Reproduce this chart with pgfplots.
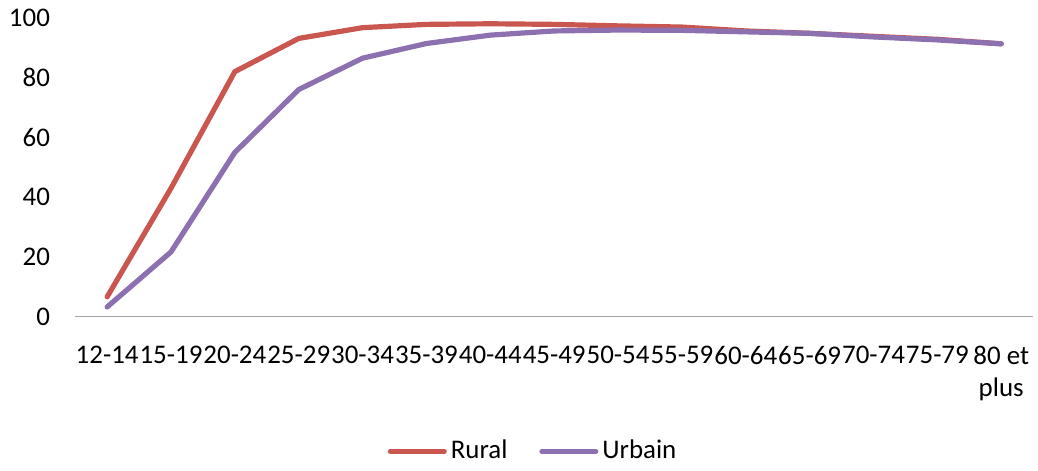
\documentclass[border=0pt]{standalone}
\usepackage{pgfplots}
\pgfplotsset{compat=1.18}
\usepackage{fontspec}
\setmainfont{Carlito}
\definecolor{rural}{HTML}{C9564F}
\definecolor{urbain}{HTML}{8C70B0}
\begin{document}
\fontsize{13.5}{16}\selectfont
\begin{tikzpicture}
\begin{axis}[
  scale only axis,
  width=480.5pt, height=150pt,
  xmin=-0.5, xmax=14.5,
  ymin=0, ymax=100,
  ytick={0,20,40,60,80,100},
  xtick={0,...,14},
  xticklabels={12-14,15-19,20-24,25-29,30-34,35-39,40-44,45-49,50-54,55-59,60-64,65-69,70-74,75-79,80 et\\plus},
  xticklabel style={align=center, font=\fontsize{13.5}{16}\selectfont, yshift=-10pt},
  yticklabel style={font=\fontsize{13.5}{16}\selectfont, xshift=-8pt},
  /pgf/number format/assume math mode=true,
  axis x line*=bottom,
  axis y line*=left,
  y axis line style={draw=none},
  x axis line style={draw=gray!70, line width=0.6pt, -},
  major tick length=0pt,
  tick style={draw=none},
  clip=false,
  legend columns=2,
  legend style={at={(0.479,-0.45)}, anchor=center, draw=none, fill=none,
    font=\fontsize{13.5}{16}\selectfont,
    /tikz/every even column/.append style={column sep=14pt}},
  legend image code/.code={\draw[#1, line cap=round] (0pt,0pt) -- (27pt,0pt);},
]
\addplot[rural, line width=2.6pt, line cap=round, line join=round] coordinates {
(0,6.7) (1,43) (2,82) (3,93.1) (4,96.7) (5,97.8) (6,98) (7,97.8) (8,97.3) (9,96.9) (10,95.6) (11,94.8) (12,93.8) (13,92.8) (14,91.3)
};
\addlegendentry{Rural}
\addplot[urbain, line width=2.6pt, line cap=round, line join=round] coordinates {
(0,3.3) (1,21.7) (2,55) (3,76) (4,86.5) (5,91.4) (6,94.2) (7,95.6) (8,95.9) (9,95.8) (10,95.3) (11,94.8) (12,93.6) (13,92.6) (14,91.3)
};
\addlegendentry{Urbain}
\end{axis}
\end{tikzpicture}
\end{document}
